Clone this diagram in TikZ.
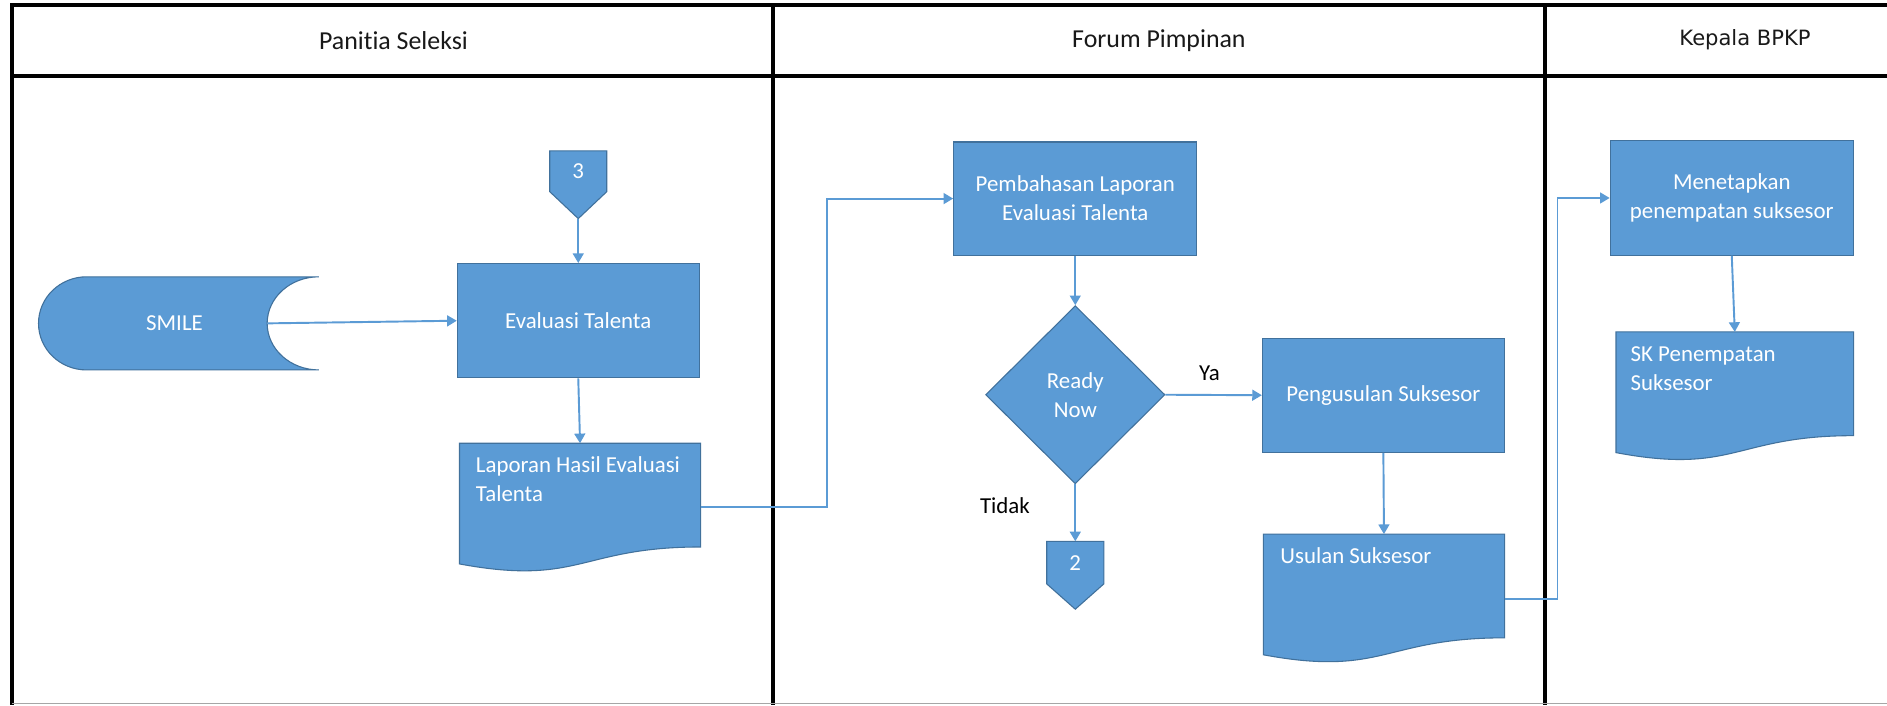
\documentclass[tikz,border=0pt]{standalone}
\usepackage{fontspec}
\setmainfont{Carlito}[Ligatures=NoCommon]
\newfontfamily\kepfont{DejaVu Sans}
\usetikzlibrary{arrows.meta,shapes.geometric,calc,backgrounds}
\definecolor{boxfill}{HTML}{5B9BD5}
\definecolor{boxedge}{HTML}{41719C}
\definecolor{flowline}{HTML}{5B9BD5}
\newcommand\docshape[1]{\filldraw[shapefill] (#1.north west) -- (#1.north east) -- (#1.south east) .. controls (#1.south) and ($(#1.south)+(0,32.7)$) .. ($(#1.south west)+(0,14.1)$) -- cycle;}
\newcommand\offpage[2]{\filldraw[shapefill] (#1.north west) -- (#1.north east) -- (#1.south east) -- ($(#1.south)+(0,#2)$) -- (#1.south west) -- cycle;}
\begin{document}
\begin{tikzpicture}[x=1pt,y=-1pt,
  lane/.style={line width=3.2pt, black},
  hdr/.style={font=\fontsize{21.5}{24}\selectfont, text=black!90, inner sep=0pt},
  proc/.style={draw=boxedge, line width=0.9pt, fill=boxfill, text=white, align=center, font=\fontsize{19}{24}\selectfont, inner sep=0pt},
  dec/.style={diamond, draw=boxedge, line width=0.9pt, fill=boxfill, text=white, align=center, font=\fontsize{19}{24}\selectfont, inner sep=0pt, minimum width=149pt, minimum height=148pt},
  shapefill/.style={draw=boxedge, line width=0.9pt, fill=boxfill},
  slot/.style={draw=none, inner sep=0pt, text=white, align=center, font=\fontsize{19}{24}\selectfont},
  docbox/.style={draw=none, inner sep=0pt, minimum width=200pt, minimum height=85.8pt},
  doctext/.style={text=white, align=left, font=\fontsize{19}{24}\selectfont, inner sep=0pt, anchor=north west},
  lbl/.style={text=black, font=\fontsize{19}{24}\selectfont, inner sep=0pt},
  flow/.style={draw=flowline, line width=1.6pt, -{Triangle[length=8pt,width=9pt]}}
]
\useasboundingbox (0,0) rectangle (1568,586);
% swimlane frame
\draw[lane] (1568,4.5) -- (10,4.5) -- (10,586);
\draw[lane] (10,63) -- (1568,63);
\draw[lane] (642,4.5) -- (642,586);
\draw[lane] (1284,4.5) -- (1284,586);
\draw[gray!70, line width=1.5pt] (10,584.5) -- (1568,584.5);
% headers
\node[hdr] (h1) at (327,34) {Panitia Seleksi};
\node[hdr] (h2) at (963,34) {Forum Pimpinan};
\node[hdr, font=\kepfont\fontsize{17.5}{20}\selectfont] (h3) at (1450,33) {Kepala BPKP};
% nodes
\node[slot, minimum width=47pt, minimum height=33.5pt] (c3) at (480.5,142.3) {3};
\coordinate (c3tip) at ($(c3.south)+(0,22.4)$);
\node[proc, minimum width=201pt, minimum height=95pt] (ev) at (480.5,266.5) {Evaluasi Talenta};
\node[slot, minimum width=154pt, minimum height=77.4pt] (smile) at (145,268.7) {SMILE};
\node[docbox] (lap) at (482,411.4) {};
\node[doctext] (lapt) at ($(lap.north west)+(13.5,11)$) {Laporan Hasil Evaluasi\\Talenta};
\node[proc, minimum width=202pt, minimum height=94pt] (pem) at (893.5,165) {Pembahasan Laporan\\Evaluasi Talenta};
\node[dec] (dia) at (893.5,328) {Ready\\Now};
\node[proc, minimum width=201pt, minimum height=95pt] (pen) at (1149.5,328.4) {Pengusulan Suksesor};
\node[slot, minimum width=47pt, minimum height=35pt] (c2) at (893.5,467.5) {2};
\node[docbox] (usu) at (1150,486.9) {};
\node[doctext] (usut) at ($(usu.north west)+(14,11)$) {Usulan Suksesor};
\node[proc, minimum width=202pt, minimum height=95pt] (men) at (1439,164.5) {Menetapkan\\penempatan suksesor};
\node[docbox, minimum width=197pt] (sk) at (1441.5,318.9) {};
\node[doctext] (skt) at ($(sk.north west)+(12,12)$) {SK Penempatan\\Suksesor};
\node[lbl] (ya) at (1005,310) {Ya};
\node[lbl] (tidak) at (835,420) {Tidak};
% background shapes
\begin{pgfonlayer}{background}
\fill[white] (0,0) rectangle (1568,586);
\filldraw[shapefill] (72,230) -- (265,230) .. controls (241.3,230) and (222,247.3) .. (222,268.7) .. controls (222,290.1) and (241.3,307.4) .. (265,307.4) -- (72,307.4) .. controls (49.9,307.4) and (32,290.1) .. (32,268.7) .. controls (32,247.3) and (49.9,230) .. (72,230) -- cycle;
\offpage{c3}{22.4}
\offpage{c2}{21}
\docshape{lap}
\docshape{usu}
\docshape{sk}
\end{pgfonlayer}
% connectors
\draw[flow] (c3tip) -- (ev.north);
\draw[flow] (smile.east) -- (ev.west);
\draw[flow] (ev.south) -- (lap.north);
\draw[flow] ([yshift=-9.6pt]lap.east) -- ++(105,0) |- (pem.west);
\draw[flow] (pem.south) -- (dia.north);
\draw[flow] (dia.east) -- (pen.west);
\draw[flow] (dia.south) -- (c2.north);
\draw[flow] (pen.south) -- (usu.north);
\draw[flow] ([yshift=-10.6pt]usu.east) -- ++(44,0) |- (men.west);
\draw[flow] (men.south) -- (sk.north);
\end{tikzpicture}
\end{document}
